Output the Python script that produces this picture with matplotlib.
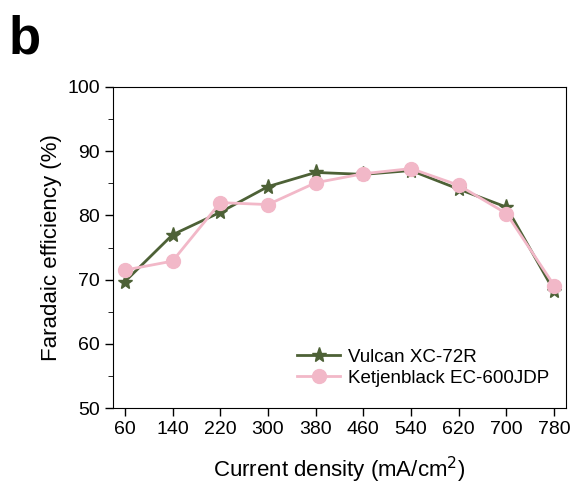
import matplotlib
matplotlib.use("Agg")
import matplotlib.pyplot as plt

plt.rcParams['font.family'] = ['Liberation Sans', 'DejaVu Sans']

density = [60, 140, 220, 300, 380, 460, 540, 620, 700, 780]
vulcan = [69.7, 77.0, 80.5, 84.5, 86.7, 86.4, 87.0, 84.1, 81.3, 68.2]
ketjen = [71.5, 72.9, 82.0, 81.7, 85.1, 86.5, 87.3, 84.7, 80.3, 69.1]

fig = plt.figure(figsize=(5.73, 4.86), dpi=100)
ax = fig.add_axes([0.197, 0.160, 0.791, 0.661])

ax.plot(density, vulcan, color='#4d6136', lw=2, marker='*', ms=11,
        label='Vulcan XC-72R', zorder=2)
ax.plot(density, ketjen, color='#f2b8c8', lw=2, marker='o', ms=10,
        label='Ketjenblack EC-600JDP', zorder=3)

ax.set_xlim(40, 800)
ax.set_ylim(50, 100)
ax.set_xticks(density)
ax.set_yticks(range(50, 101, 10))
ax.set_yticks(range(55, 100, 10), minor=True)
ax.tick_params(direction='out', length=6, width=1, labelsize=14)
ax.tick_params(axis='y', which='minor', direction='out', length=3.5)
ax.set_xlabel('Current density (mA/cm$^2$)', fontsize=16, labelpad=12)
ax.set_ylabel('Faradaic efficiency (%)', fontsize=16, labelpad=4)
ax.legend(loc='lower right', frameon=False, fontsize=13.5,
          bbox_to_anchor=(1.0, 0.015), handlelength=2.3, handletextpad=0.4,
          labelspacing=0.2)

fig.text(0.015, 0.89, 'b', fontsize=38, fontweight='bold')

fig.savefig('out.png', dpi=100)
